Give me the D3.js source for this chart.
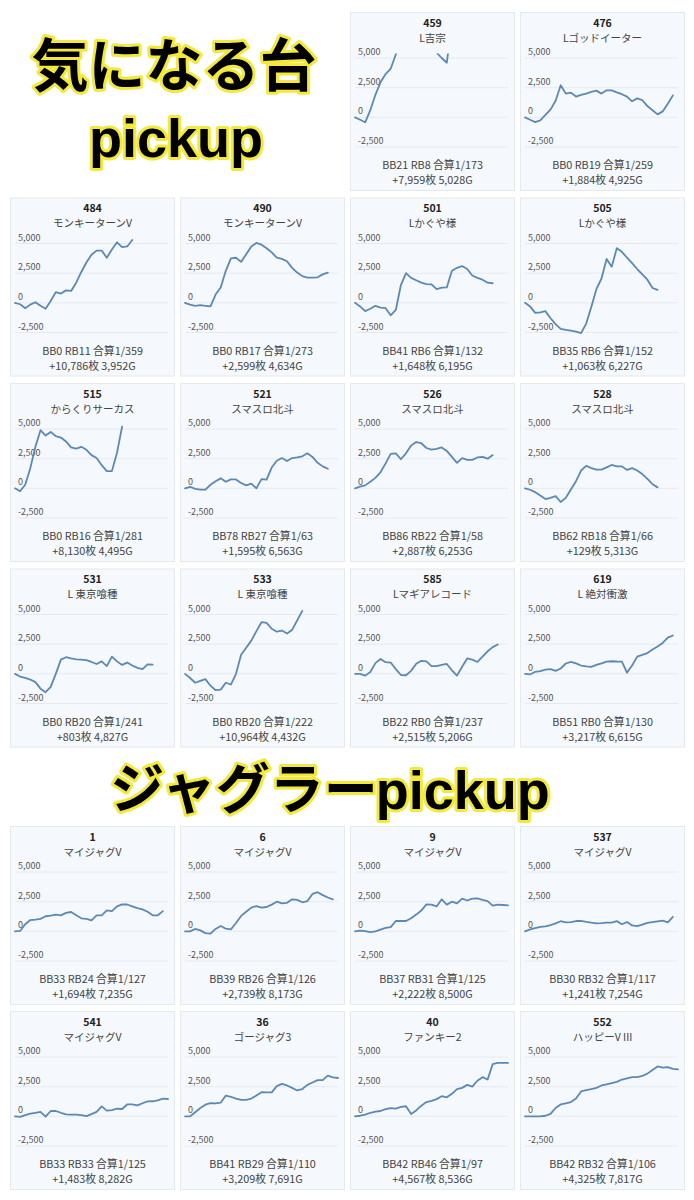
<!DOCTYPE html>
<html><head><meta charset="utf-8">
<script src="https://cdn.jsdelivr.net/npm/d3@7"></script>
<style>body{margin:0;background:#fff}svg{display:block}</style>
</head><body><svg id="c" width="694" height="1200"></svg>
<script>
const ids = ["459","476","484","490","501","505","515","521","526","528","531","533","585","619","1","6","9","537","541","36","40","552"];
const machines = ["L吉宗","Lゴッドイーター","モンキーターンV","モンキーターンV","Lかぐや様","Lかぐや様","からくりサーカス","スマスロ北斗","スマスロ北斗","スマスロ北斗","L 東京喰種","L 東京喰種","Lマギアレコード","L 絶対衝激","マイジャグV","マイジャグV","マイジャグV","マイジャグV","マイジャグV","ゴージャグ3","ファンキー2","ハッピーV III"];
const bonusText = ["BB21 RB8 合算1/173","BB0 RB19 合算1/259","BB0 RB11 合算1/359","BB0 RB17 合算1/273","BB41 RB6 合算1/132","BB35 RB6 合算1/152","BB0 RB16 合算1/281","BB78 RB27 合算1/63","BB86 RB22 合算1/58","BB62 RB18 合算1/66","BB0 RB20 合算1/241","BB0 RB20 合算1/222","BB22 RB0 合算1/237","BB51 RB0 合算1/130","BB33 RB24 合算1/127","BB39 RB26 合算1/126","BB37 RB31 合算1/125","BB30 RB32 合算1/117","BB33 RB33 合算1/125","BB41 RB29 合算1/110","BB42 RB46 合算1/97","BB42 RB32 合算1/106"];
const resultText = ["+7,959枚 5,028G","+1,884枚 4,925G","+10,786枚 3,952G","+2,599枚 4,634G","+1,648枚 6,195G","+1,063枚 6,227G","+8,130枚 4,495G","+1,595枚 6,563G","+2,887枚 6,253G","+129枚 5,313G","+803枚 4,827G","+10,964枚 4,432G","+2,515枚 5,206G","+3,217枚 6,615G","+1,694枚 7,235G","+2,739枚 8,173G","+2,222枚 8,500G","+1,241枚 7,254G","+1,483枚 8,282G","+3,209枚 7,691G","+4,567枚 8,536G","+4,325枚 7,817G"];

const s459 = [0,-200,-420,600,1900,2950,3650,4100,5300,6200,6800,7200,7400,7300,7000,6500,5450,5000,4600,8000];
const s476 = [0,-200,-400,-250,200,650,1400,2700,2000,2080,1750,1900,2000,2150,2250,2000,2280,2270,2100,1950,1750,1350,1600,1450,950,600,250,500,1150,1850];
const s484 = [0,-120,-450,-150,50,-250,-500,150,900,780,1050,1000,1700,2600,3400,4050,4400,4400,3800,4500,5100,4700,4750,5300];
const s490 = [0,-150,-250,-200,-250,-300,700,1300,2700,3750,3800,3450,4100,4750,5050,4900,4600,4250,3800,3700,3500,2950,2550,2250,2130,2130,2150,2400,2550];
const s501 = [0,-300,-700,-500,-250,-400,-450,-1050,-600,1500,2500,2100,1900,1700,1580,1560,1150,1280,1300,2700,2950,3100,2850,2300,2100,1950,1700,1650];
const s505 = [0,-300,-850,-800,-700,-1300,-1800,-2200,-2280,-2350,-2420,-2550,-1750,-350,1150,2050,3700,3050,4600,4300,3800,3350,2850,2400,1950,1250,1100];
const s515 = [0,-250,300,1700,3500,4900,4450,4750,4400,4280,3950,3450,3350,3500,3250,2800,2550,1950,1450,1450,3000,5200];
const s521 = [0,130,-50,-110,-110,300,600,840,550,750,750,450,250,400,0,780,730,1750,2330,2550,2300,2550,2600,2700,2950,2650,2150,1850,1650];
const s526 = [0,150,250,550,880,1350,2100,2900,2950,2450,2950,3600,3900,3800,3400,3270,3320,3450,3150,2650,2150,2550,2400,2400,2600,2650,2500,2800];
const s528 = [0,-120,-320,-600,-900,-800,-650,-1150,-800,-100,600,1500,1900,1700,1570,1580,1770,1970,1850,1850,1550,1700,1500,1200,800,350,80];
const s531 = [0,-230,-350,-480,-700,-1250,-1550,-1100,0,1200,1400,1300,1220,1200,1150,1000,830,1050,650,1450,1050,750,950,700,500,400,800,780];
const s533 = [0,-350,-750,-600,-450,-1000,-1380,-1330,-750,-900,0,1600,2200,2800,3600,4350,4300,3800,3550,3650,3400,3700,4500,5300];
const s585 = [0,0,-150,160,900,1250,980,950,400,-100,-120,250,850,1100,1050,650,650,750,830,300,-150,600,1300,1200,1000,1450,1900,2250,2470];
const s619 = [0,-50,170,220,350,400,250,450,870,1000,880,700,620,580,750,880,1030,1060,1040,1030,100,700,1450,1600,1750,2050,2300,2600,3050,3230];
const s1 = [0,30,600,950,990,1050,1270,1330,1400,1350,1550,1630,1350,1100,1050,930,1350,1350,1770,1700,2100,2270,2260,2100,1950,1850,1650,1350,1350,1700];
const s6 = [0,0,200,80,-150,-200,200,450,220,170,700,1300,1650,2000,2130,2000,2050,2250,2500,2350,2400,2700,2650,2450,2550,3150,3300,3050,2850,2700];
const s9 = [0,60,20,-60,0,150,290,360,870,870,870,1100,1410,1750,2270,2250,2100,2700,2250,2500,2350,2750,2600,2750,2780,2650,2550,2160,2250,2220,2190];
const s537 = [0,170,280,380,420,520,670,850,750,770,870,880,800,730,670,690,730,730,860,600,780,500,430,560,720,780,840,900,750,1210];
const s541 = [0,-50,100,220,300,380,-30,450,450,300,170,140,140,100,20,180,370,840,480,520,640,620,1000,1000,920,1100,1260,1270,1350,1490,1460];
const s36 = [0,0,350,700,980,1110,1090,1150,1750,1650,1500,1390,1390,1500,1750,2030,2020,2020,2550,2740,2600,2400,2180,2300,2650,2850,3050,3050,3430,3290,3230];
const s40 = [0,50,150,300,400,450,600,700,650,800,850,200,500,900,1200,1300,1450,1700,1600,1900,2300,2400,2650,2500,3000,3300,3100,4400,4500,4500,4500];
const s552 = [0,0,0,0,50,200,700,1000,1100,1200,1500,2100,2200,2300,2400,2600,2700,2800,2900,3100,3200,3300,3300,3400,3600,3900,4200,4100,4150,4000,3950];
const seriesList = [s459,s476,s484,s490,s501,s505,s515,s521,s526,s528,s531,s533,s585,s619,s1,s6,s9,s537,s541,s36,s40,s552];

const yTicks = [5000, 2500, 0, -2500];
const xSteps = 30;
const titles = ["気になる台", "pickup", "ジャグラー", "pickup"];

const svg = d3.select("#c");
const defs = svg.append("defs");

const colX = [10, 180, 350, 520];
const PW = 165, PH = 179;
function slot(k) {
  if (k < 2) return {x: colX[2 + k], y: 12};
  if (k < 14) { const j = k - 2; return {x: colX[j % 4], y: 12 + 185.5 * (1 + Math.floor(j / 4))}; }
  const j = k - 14; return {x: colX[j % 4], y: 826 + 185 * Math.floor(j / 4)};
}
const jp = "'Noto Sans CJK JP', 'Noto Sans', sans-serif";
const fmt = d3.formatLocale({decimal: ".", thousands: ",", grouping: [3], currency: ["", ""], minus: "-"}).format(",");
const x = d3.scaleLinear().domain([0, xSteps]).range([5, 158]);
const y = d3.scaleLinear().domain([-2500, 5000]).range([135, 46]);
const line = d3.line().x((d, i) => x(i)).y(d => y(d));

ids.forEach((id, k) => {
  const p = slot(k);
  const g = svg.append("g").attr("transform", `translate(${p.x},${p.y})`);
  g.append("rect").attr("x", 0.5).attr("y", 0.5).attr("width", PW - 1).attr("height", PH - 1)
    .attr("fill", "#f5f8fc").attr("stroke", "#e4e9f0");
  g.append("text").attr("x", PW / 2).attr("y", 14.5).attr("text-anchor", "middle")
    .attr("font-family", jp).attr("font-weight", 700).attr("font-size", 10.5).attr("fill", "#222").text(id);
  g.append("text").attr("x", PW / 2).attr("y", 29.5).attr("text-anchor", "middle")
    .attr("font-family", jp).attr("font-size", 10.5).attr("fill", "#444").text(machines[k]);
  yTicks.forEach(t => {
    g.append("line").attr("x1", 5).attr("x2", 158).attr("y1", y(t)).attr("y2", y(t))
      .attr("stroke", "#e6eaf0").attr("stroke-width", 1);
    g.append("text").attr("x", 8).attr("y", y(t) - 3).attr("font-family", jp)
      .attr("font-size", 9).attr("fill", "#555").text(fmt(t));
  });
  const cid = "clip" + k;
  defs.append("clipPath").attr("id", cid).append("rect")
    .attr("x", 3).attr("y", 41.5).attr("width", 158).attr("height", 100);
  g.append("path").datum(seriesList[k]).attr("d", line).attr("clip-path", `url(#${cid})`)
    .attr("fill", "none").attr("stroke", "#5b89b5").attr("stroke-width", 1.8)
    .attr("stroke-linejoin", "round").attr("stroke-linecap", "round");
  g.append("text").attr("x", PW / 2).attr("y", 157).attr("text-anchor", "middle")
    .attr("font-family", jp).attr("font-size", 10.8).attr("fill", "#444").text(bonusText[k]);
  g.append("text").attr("x", PW / 2).attr("y", 172).attr("text-anchor", "middle")
    .attr("font-family", jp).attr("font-size", 10.8).attr("fill", "#444").text(resultText[k]);
});

function titleText(parent) {
  return parent.append("text").attr("fill", "#000").attr("stroke", "#f3e93a")
    .attr("stroke-width", 6).attr("stroke-linejoin", "round").attr("paint-order", "stroke")
    .attr("font-weight", 700).attr("text-anchor", "middle");
}
titleText(svg).attr("x", 174).attr("y", 86).attr("font-family", jp).attr("font-size", 57).text(titles[0]);
titleText(svg).attr("x", 176).attr("y", 157).attr("font-family", "'Liberation Sans', Arial, sans-serif").attr("font-size", 54).text(titles[1]);
const t2 = titleText(svg).attr("x", 330).attr("y", 809).attr("font-size", 54);
t2.append("tspan").attr("font-family", jp).text(titles[2]);
t2.append("tspan").attr("font-family", "'Liberation Sans', Arial, sans-serif").attr("dx", -2).text(titles[3]);
</script></body></html>
